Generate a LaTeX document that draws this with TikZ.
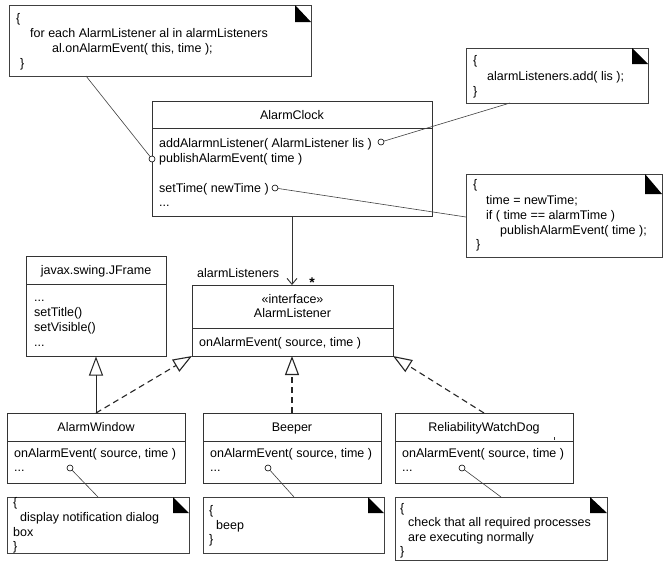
\documentclass[tikz,border=0pt]{standalone}
\usepackage{fontspec}
\setmainfont{Liberation Sans}
\usetikzlibrary{arrows.meta}
\newcommand{\diagfont}{\fontsize{12.5pt}{15pt}\selectfont}
\begin{document}
\begin{tikzpicture}[x=1pt,y=-1pt,
  cls/.style={draw=black!80, line width=0.9pt, fill=white, inner sep=0pt, outer sep=0pt, anchor=north west},
  clsline/.style={draw=black!80, line width=0.9pt},
  notebox/.style={draw=black!75, line width=0.9pt, fill=white, inner sep=0pt, outer sep=0pt, anchor=north west},
  txt/.style={inner sep=0pt, anchor=base west, font=\diagfont},
  ttl/.style={inner sep=0pt, anchor=base, font=\diagfont},
  lnk/.style={draw=black!75, line width=0.6pt},
  port/.style={circle, draw=black, fill=white, line width=0.6pt, minimum size=6pt, inner sep=0pt},
  gen/.style={-{Triangle[open, length=19pt, width=14pt]}, line width=1pt, draw=black!85},
  realize/.style={gen, line width=1.1pt, dash pattern=on 6pt off 4pt},
  assoc/.style={-{Straight Barb[length=6pt, width=10pt]}, line width=0.9pt, draw=black!80}
]
\useasboundingbox[fill=white] (0,0) rectangle (665,563);

% ---------- AlarmClock ----------
\node[cls, minimum width=280pt, minimum height=115pt] (clock) at (152,101) {};
\draw[clsline] (clock.west |- 0,128) -- (clock.east |- 0,128);
\node[ttl] (clockT) at (292,119.5) {AlarmClock};
\node[txt] (c1) at (159,147) {addAlarmnListener( AlarmListener lis )};
\node[txt] (c2) at (159,162) {publishAlarmEvent( time )};
\node[txt] (c3) at (159,192) {setTime( newTime )};
\node[txt] (c4) at (159,206) {...};

% ---------- JFrame ----------
\node[cls, minimum width=140pt, minimum height=100.5pt] (jframe) at (26,256) {};
\draw[clsline] (jframe.west |- 0,284) -- (jframe.east |- 0,284);
\node[ttl] (jframeT) at (96,274.5) {javax.swing.JFrame};
\node[txt] (j1) at (34,301) {...};
\node[txt] (j2) at (34,316) {setTitle()};
\node[txt] (j3) at (34,331) {setVisible()};
\node[txt] (j4) at (34,346) {...};

% ---------- AlarmListener ----------
\node[cls, minimum width=201pt, minimum height=71pt] (listener) at (192,285) {};
\draw[clsline] (listener.west |- 0,328) -- (listener.east |- 0,328);
\node[ttl] (listenerS) at (292.5,303) {«interface»};
\node[ttl] (listenerT) at (292.5,317.5) {AlarmListener};
\node[txt] (l1) at (199,346) {onAlarmEvent( source, time )};

% ---------- bottom classes ----------
\node[cls, minimum width=178pt, minimum height=70pt] (window) at (7,413) {};
\draw[clsline] (window.west |- 0,441) -- (window.east |- 0,441);
\node[ttl] (windowT) at (96,431.5) {AlarmWindow};
\node[txt] (w1) at (14,457) {onAlarmEvent( source, time )};
\node[txt] (w2) at (14,471) {...};

\node[cls, minimum width=178pt, minimum height=70pt] (beeper) at (203,413) {};
\draw[clsline] (beeper.west |- 0,441) -- (beeper.east |- 0,441);
\node[ttl] (beeperT) at (292,431.5) {Beeper};
\node[txt] (b1) at (210,457) {onAlarmEvent( source, time )};
\node[txt] (b2) at (210,471) {...};

\node[cls, minimum width=178pt, minimum height=70pt] (dog) at (395,413) {};
\draw[clsline] (dog.west |- 0,441) -- (dog.east |- 0,441);
\node[ttl] (dogT) at (484,431.5) {ReliabilityWatchDog};
\node[txt] (d1) at (402,457) {onAlarmEvent( source, time )};
\node[txt] (d2) at (402,471) {...};
\draw[line width=0.8pt, black!80] (554,437) -- (554,440);

% ---------- notes ----------
\node[notebox, minimum width=302pt, minimum height=71pt] (n1) at (9,5) {};
\fill (n1.north east) ++(-16pt,0pt) -- ++(0pt,-17pt) -- ++(16pt,0pt) -- cycle;
\node[txt] (n1a) at (16,22) {\{};
\node[txt] (n1b) at (30,37) {for each AlarmListener al in alarmListeners};
\node[txt] (n1c) at (52,52) {al.onAlarmEvent( this, time );};
\node[txt] (n1d) at (20,67) {\}};

\node[notebox, minimum width=182pt, minimum height=55pt] (n2) at (466,48) {};
\fill (n2.north east) ++(-16pt,0pt) -- ++(0pt,-16pt) -- ++(16pt,0pt) -- cycle;
\node[txt] (n2a) at (473,64) {\{};
\node[txt] (n2b) at (487,80) {alarmListeners.add( lis );};
\node[txt] (n2c) at (473,95) {\}};

\node[notebox, minimum width=196pt, minimum height=83pt] (n3) at (466,174) {};
\fill (n3.north east) ++(-17pt,0pt) -- ++(0pt,-20pt) -- ++(17pt,0pt) -- cycle;
\node[txt] (n3a) at (473,188) {\{};
\node[txt] (n3b) at (486,204) {time = newTime;};
\node[txt] (n3c) at (486,219) {if ( time == alarmTime )};
\node[txt] (n3d) at (500,234) {publishAlarmEvent( time );};
\node[txt] (n3e) at (476,248) {\}};

\node[notebox, minimum width=182pt, minimum height=56pt] (nA) at (7,497) {};
\fill (nA.north east) ++(-16pt,0pt) -- ++(0pt,-16pt) -- ++(16pt,0pt) -- cycle;
\node[txt] (nAa) at (13,506) {\{};
\node[txt] (nAb) at (20,521) {display notification dialog};
\node[txt] (nAc) at (13,536) {box};
\node[txt] (nAd) at (13,550) {\}};

\node[notebox, minimum width=181pt, minimum height=56pt] (nB) at (203,497) {};
\fill (nB.north east) ++(-16pt,0pt) -- ++(0pt,-16pt) -- ++(16pt,0pt) -- cycle;
\node[txt] (nBa) at (209,514) {\{};
\node[txt] (nBb) at (216,529) {beep};
\node[txt] (nBc) at (209,543) {\}};

\node[notebox, minimum width=212pt, minimum height=63pt] (nC) at (395,497) {};
\fill (nC.north east) ++(-17pt,0pt) -- ++(0pt,-16pt) -- ++(17pt,0pt) -- cycle;
\node[txt] (nCa) at (400,512) {\{};
\node[txt] (nCb) at (408,526) {check that all required processes};
\node[txt] (nCc) at (408,541) {are executing normally};
\node[txt] (nCd) at (400,555) {\}};

% ---------- ports ----------
\node[port] (pAdd) at (381,142) {};
\node[port] (pPub) at (152,159) {};
\node[port] (pSet) at (275,188) {};
\node[port] (pWin) at (70,468) {};
\node[port] (pBeep) at (268,468) {};
\node[port] (pDog) at (462,468) {};

% ---------- note links ----------
\draw[lnk] (n1.south -| 86,0) -- (pPub);
\draw[lnk] (n2.south -| 510,0) -- (pAdd);
\draw[lnk] (n3.west |- 0,217) -- (pSet);
\draw[lnk] (nA.north -| 98,0) -- (pWin);
\draw[lnk] (nB.north -| 294,0) -- (pBeep);
\draw[lnk] (nC.north -| 501,0) -- (pDog);

% ---------- association ----------
\draw[assoc] (clock.south) -- (listener.north -| clock.south);
\node[txt] (roleL) at (197,277.5) {alarmListeners};
\node[inner sep=0pt, anchor=base, font=\fontsize{14pt}{16pt}\selectfont\bfseries] (mult) at (312,287.5) {*};

% ---------- generalization / realization ----------
\draw[gen] (window.north) -- (jframe.south);
\draw[realize] (window.north) -- (listener.south west);
\draw[realize] (beeper.north) -- (listener.south -| beeper.north);
\draw[realize] (dog.north) -- (listener.south east);
\end{tikzpicture}
\end{document}
